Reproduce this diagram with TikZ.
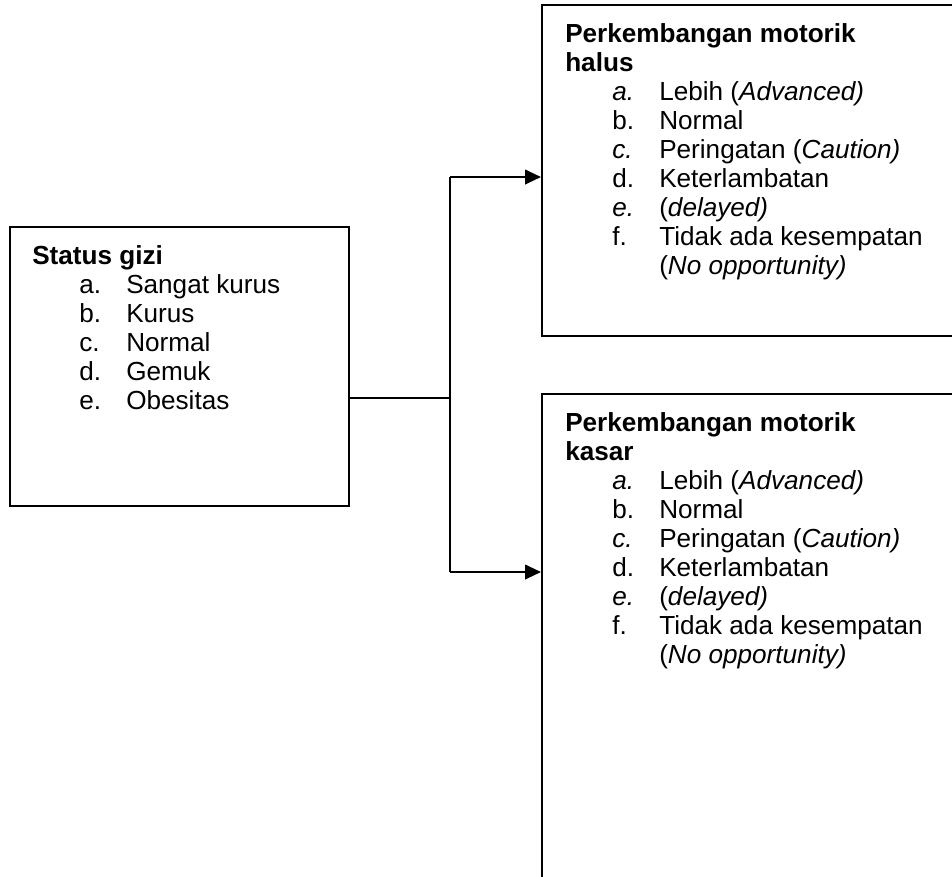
\documentclass[tikz,border=0pt]{standalone}
\usepackage{fontspec}
\setmainfont{Liberation Sans}
\usetikzlibrary{arrows.meta,positioning}

\tikzset{
  kotak/.style={draw,line width=1.5pt,inner sep=0pt,anchor=north west},
  isi/.style={anchor=north west,inner sep=0pt,align=left,
    font=\fontsize{19.6pt}{21.75pt}\selectfont},
  garis/.style={line width=1.5pt},
  panah/.style={line width=1.5pt,-{Triangle[length=12pt,width=11pt]}},
}
\newcommand{\butir}[2]{\hspace*{35.25pt}\makebox[35.25pt][l]{#1}#2}

\begin{document}
\begin{tikzpicture}[x=0.75pt,y=-0.75pt]
  \useasboundingbox (0,0) rectangle (952,876);
  \clip (0,0) rectangle (952,876);

  % kotak
  \node[kotak,minimum width=254.25pt,minimum height=209.25pt] (gizi) at (9,226) {};
  \node[kotak,minimum width=337.5pt,minimum height=248.25pt] (halus) at (541,4) {};
  \node[kotak,minimum width=337.5pt,minimum height=390pt] (kasar) at (541,393) {};

  % isi kotak
  \node[isi] (tgizi) at (32,245) {\textbf{Status gizi}\\
    \butir{a.}{Sangat kurus}\\
    \butir{b.}{Kurus}\\
    \butir{c.}{Normal}\\
    \butir{d.}{Gemuk}\\
    \butir{e.}{Obesitas}};
  \node[isi] (thalus) at (565,23) {\textbf{Perkembangan motorik}\\
    \textbf{halus}\\
    \butir{\textit{a.}}{Lebih (\textit{Advanced)}}\\
    \butir{b.}{Normal}\\
    \butir{\textit{c.}}{Peringatan (\textit{Caution)}}\\
    \butir{d.}{Keterlambatan}\\
    \butir{\textit{e.}}{(\textit{delayed)}}\\
    \butir{f.}{Tidak ada kesempatan}\\
    \butir{}{(\textit{No opportunity)}}};
  \node[isi] (tkasar) at (565,412) {\textbf{Perkembangan motorik}\\
    \textbf{kasar}\\
    \butir{\textit{a.}}{Lebih (\textit{Advanced)}}\\
    \butir{b.}{Normal}\\
    \butir{\textit{c.}}{Peringatan (\textit{Caution)}}\\
    \butir{d.}{Keterlambatan}\\
    \butir{\textit{e.}}{(\textit{delayed)}}\\
    \butir{f.}{Tidak ada kesempatan}\\
    \butir{}{(\textit{No opportunity)}}};

  % penghubung
  \coordinate (cabang) at (450,398);
  \coordinate (atas) at (450,177);
  \coordinate (bawah) at (450,572);
  \draw[garis] (gizi.east |- cabang) -- (cabang);
  \draw[garis] (atas) -- (bawah);
  \draw[panah] (atas) -- (atas -| halus.west);
  \draw[panah] (bawah) -- (bawah -| kasar.west);
\end{tikzpicture}
\end{document}
